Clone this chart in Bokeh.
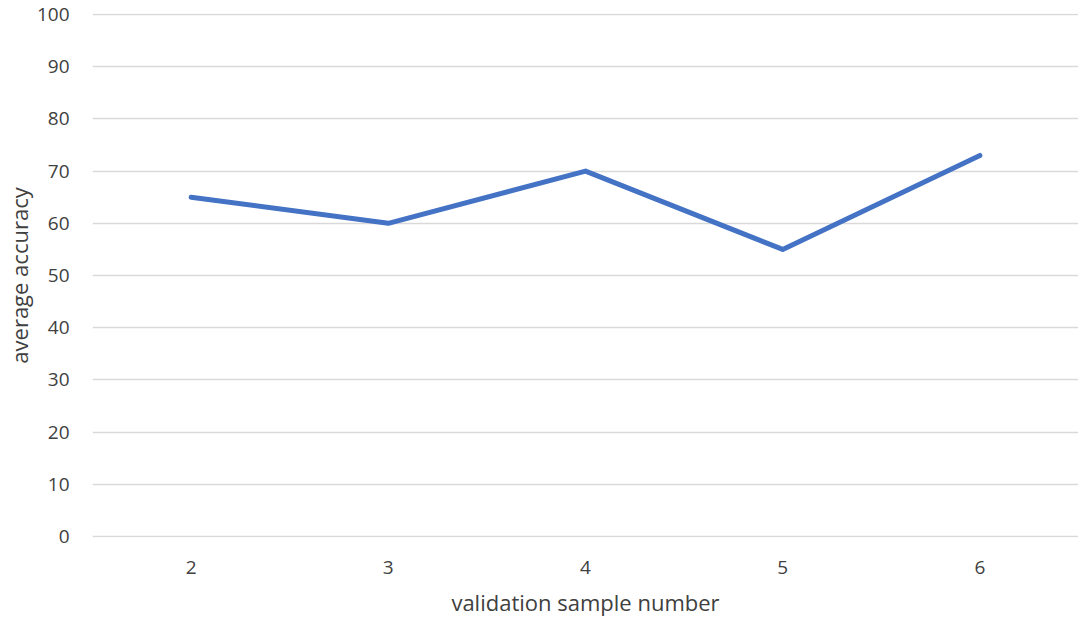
from bokeh.plotting import figure
from bokeh.models import FactorRange, Range1d, ColumnDataSource, FixedTicker
from bokeh.embed import file_html
from bokeh.resources import INLINE

samples = ["2", "3", "4", "5", "6"]
accuracy = [65, 60, 70, 55, 73]
y_ticks = [0, 10, 20, 30, 40, 50, 60, 70, 80, 90, 100]

src = ColumnDataSource(data=dict(x=samples, y=accuracy))

p = figure(x_range=FactorRange(factors=samples), y_range=Range1d(-0.2, 100.2),
           frame_width=986, frame_height=524,
           min_border_left=92, min_border_right=0, min_border_top=13, min_border_bottom=84,
           output_backend="svg", toolbar_location=None)

p.line("x", "y", source=src, line_color="#4472C4", line_width=5,
       line_cap="round", line_join="round")

p.outline_line_color = None
p.xgrid.grid_line_color = None
p.ygrid.grid_line_color = "#d9d9d9"
p.ygrid.grid_line_width = 1.5
p.yaxis.ticker = FixedTicker(ticks=y_ticks)

for ax in (p.xaxis[0], p.yaxis[0]):
    ax.axis_line_color = None
    ax.major_tick_line_color = None
    ax.minor_tick_line_color = None
    ax.major_label_text_font = "Open Sans"
    ax.major_label_text_font_size = "19px"
    ax.major_label_text_color = "#404040"
    ax.axis_label_text_font = "Open Sans"
    ax.axis_label_text_font_size = "22px"
    ax.axis_label_text_font_style = "normal"
    ax.axis_label_text_color = "#404040"

p.xaxis.axis_label = "validation sample number"
p.yaxis.axis_label = "average accuracy"
p.yaxis.major_label_standoff = 17
p.xaxis.major_label_standoff = 17
p.xaxis.axis_label_standoff = 10
p.yaxis.axis_label_standoff = 0

open("out.html", "w").write(file_html(p, INLINE))
